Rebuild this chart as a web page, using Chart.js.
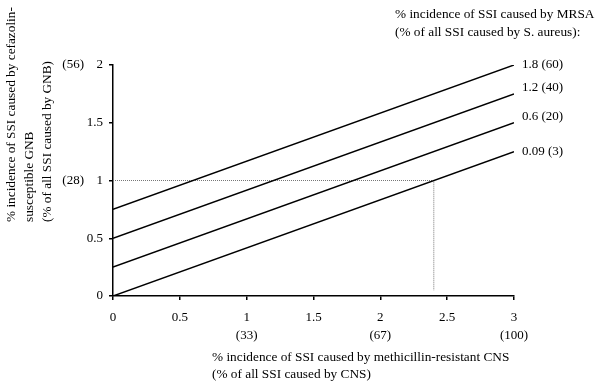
<!DOCTYPE html>
<html>
<head>
<meta charset="utf-8">
<script src="https://cdn.jsdelivr.net/npm/chart.js@4.4.0/dist/chart.umd.min.js"></script>
<style>
  html, body { margin: 0; padding: 0; background: #fff; }
  #wrap { width: 600px; height: 387px; position: relative; }
</style>
</head>
<body>
<div id="wrap"><canvas id="c" width="600" height="387"></canvas></div>
<script>
// ---- Data ----
const xRange = [0, 3];
const seriesLabels = ['1.8 (60)', '1.2 (40)', '0.6 (20)', '0.09 (3)'];
const seriesStart = [0.75, 0.5, 0.25, 0];   // y at x = 0
const seriesEnd = [2, 1.75, 1.5, 1.25];     // y at x = 3
const refX = [0, 2.4, 2.4];
const refY = [1, 1, 0.05];
const xTickValues = [0, 0.5, 1, 1.5, 2, 2.5, 3];
const xTickLabels = ['0', '0.5', ['1', '(33)'], '1.5', ['2', '(67)'], '2.5', ['3', '(100)']];
const yTickValues = [0, 0.5, 1, 1.5, 2];
const yTickLabels = ['0', '0.5', '1', '1.5', '2'];
const ySecondaryValues = [1, 2];
const ySecondaryLabels = ['(28)', '(56)'];
const xTitle = ['% incidence of SSI caused by methicillin-resistant CNS', '(% of all SSI caused by CNS)'];
const yTitle = ['% incidence of SSI caused by cefazolin-', 'susceptible GNB', '(% of all SSI caused by GNB)'];
const legendTitle = ['% incidence of SSI caused by MRSA', '(% of all SSI caused by S. aureus):'];

const FONT = "'Liberation Serif', 'Times New Roman', serif";
const labelNudge = [0, -6, -6, 0];

const datasets = seriesLabels.map((lab, i) => ({
  label: lab,
  data: [{x: xRange[0], y: seriesStart[i]}, {x: xRange[1], y: seriesEnd[i]}],
  borderColor: '#000',
  borderWidth: 1.5,
  pointRadius: 0,
  fill: false,
  tension: 0
}));
datasets.push({
  label: 'ref',
  data: refX.map((x, i) => ({x: x, y: refY[i]})),
  borderColor: '#777',
  borderWidth: 1,
  borderDash: [1, 1],
  pointRadius: 0,
  fill: false,
  tension: 0
});

const textPlugin = {
  id: 'texts',
  afterDraw(chart) {
    const ctx = chart.ctx;
    const xs = chart.scales.x, ys = chart.scales.y;
    ctx.save();
    ctx.fillStyle = '#000';
    ctx.font = '13px ' + FONT;
    ctx.textBaseline = 'middle';
    // secondary y tick labels
    ctx.textAlign = 'right';
    ySecondaryValues.forEach((v, i) => {
      ctx.fillText(ySecondaryLabels[i], 84, ys.getPixelForValue(v));
    });
    // line end labels
    ctx.textAlign = 'left';
    seriesLabels.forEach((lab, i) => {
      ctx.fillText(lab, xs.getPixelForValue(xRange[1]) + 8, ys.getPixelForValue(seriesEnd[i]) + labelNudge[i]);
    });
    ctx.font = '13.3px ' + FONT;
    // legend title
    legendTitle.forEach((t, i) => ctx.fillText(t, 395, 15 + i * 18));
    // x title
    xTitle.forEach((t, i) => ctx.fillText(t, 212, 358 + i * 17));
    // y title (rotated)
    ctx.translate(0, 222);
    ctx.rotate(-Math.PI / 2);
    ctx.textAlign = 'left';
    yTitle.forEach((t, i) => ctx.fillText(t, 0, 12 + i * 17.8));
    ctx.restore();
  }
};

new Chart(document.getElementById('c'), {
  type: 'line',
  data: { datasets },
  plugins: [textPlugin],
  options: {
    responsive: false,
    animation: false,
    layout: { padding: { left: 0, top: 65, right: 86, bottom: 0 } },
    plugins: { legend: { display: false }, tooltip: { enabled: false } },
    scales: {
      x: {
        type: 'linear',
        min: 0, max: 3,
        afterBuildTicks: s => { s.ticks = xTickValues.map(v => ({value: v})); },
        afterFit: s => { s.height = 91; },
        grid: { drawOnChartArea: false, drawTicks: true, tickLength: 4, color: '#000', lineWidth: 1.5 },
        border: { color: '#000', width: 1.5 },
        ticks: {
          color: '#000',
          font: { family: FONT, size: 13, lineHeight: 1.4 },
          padding: 8,
          maxRotation: 0,
          autoSkip: false,
          callback: (v) => { const i = xTickValues.indexOf(v); return i >= 0 ? xTickLabels[i] : ''; }
        }
      },
      y: {
        type: 'linear',
        min: 0, max: 2,
        afterBuildTicks: s => { s.ticks = yTickValues.map(v => ({value: v})); },
        afterFit: s => { s.width = 113; },
        grid: { drawOnChartArea: false, drawTicks: true, tickLength: 4, color: '#000', lineWidth: 1.5 },
        border: { color: '#000', width: 1.5 },
        ticks: {
          color: '#000',
          font: { family: FONT, size: 13 },
          padding: 6,
          autoSkip: false,
          callback: (v) => { const i = yTickValues.indexOf(v); return i >= 0 ? yTickLabels[i] : ''; }
        }
      }
    }
  }
});
</script>
</body>
</html>
